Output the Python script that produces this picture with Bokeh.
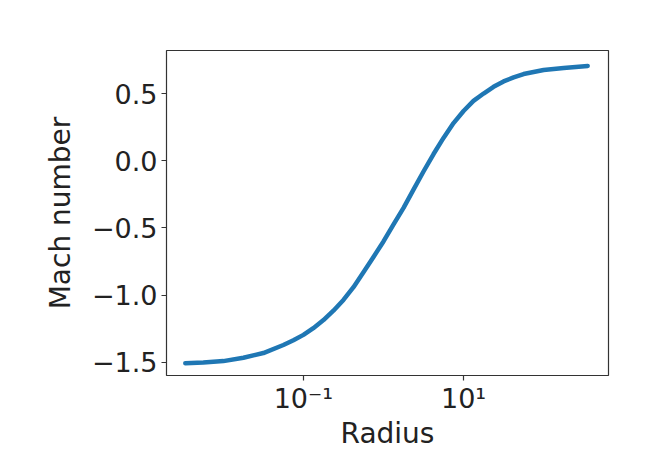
from bokeh.plotting import figure
from bokeh.models import Range1d, FixedTicker
from bokeh.embed import file_html
from bokeh.resources import INLINE

# Data
radius = [0.00335, 0.00562, 0.01, 0.0178, 0.0316, 0.0562, 0.075, 0.1,
          0.133, 0.178, 0.237, 0.316, 0.422, 0.562, 0.75, 1.0, 1.33,
          1.78, 2.37, 3.16, 4.22, 5.62, 7.5, 10.0, 13.3, 17.8, 23.7,
          31.6, 42.2, 56.2, 100.0, 178.0, 355.0]
mach = [-1.505, -1.50, -1.49, -1.465, -1.43, -1.37, -1.335, -1.295,
        -1.245, -1.185, -1.115, -1.035, -0.94, -0.83, -0.715, -0.60, -0.475,
        -0.35, -0.215, -0.08, 0.05, 0.17, 0.28, 0.37, 0.445, 0.50, 0.55,
        0.59, 0.62, 0.645, 0.675, 0.69, 0.705]

x_ticks = [0.1, 10.0]
x_tick_labels = ["10⁻¹", "10¹"]
y_ticks = [-1.5, -1.0, -0.5, 0.0, 0.5]
y_tick_labels = ["−1.5", "−1.0", "−0.5", "0.0", "0.5"]

FONT = "DejaVu Sans"

p = figure(width=659, height=453, x_axis_type="log",
           output_backend="svg", toolbar_location=None,
           x_range=Range1d(0.00195, 646), y_range=Range1d(-1.597, 0.82),
           min_border_left=166, min_border_right=51,
           min_border_top=50, min_border_bottom=78)

p.line(radius, mach, line_color="#1f77b4", line_width=4.5,
       line_join="round", line_cap="round")

p.grid.visible = False
p.outline_line_color = "#333333"
p.outline_line_width = 1.2
p.background_fill_color = "white"
p.border_fill_color = "white"

p.xaxis.ticker = FixedTicker(ticks=x_ticks, minor_ticks=[])
p.xaxis.major_label_overrides = {t: l for t, l in zip(x_ticks, x_tick_labels)}
p.yaxis.ticker = FixedTicker(ticks=y_ticks, minor_ticks=[])
p.yaxis.major_label_overrides = {t: l for t, l in zip(y_ticks, y_tick_labels)}

p.xaxis.axis_label = "Radius"
p.yaxis.axis_label = "Mach number"

for ax in (p.xaxis[0], p.yaxis[0]):
    ax.axis_line_color = None
    ax.major_tick_line_color = "#333333"
    ax.major_tick_line_width = 1.2
    ax.major_tick_out = 5
    ax.major_tick_in = 0
    ax.minor_tick_line_color = None
    ax.major_label_text_font = FONT
    ax.major_label_text_font_size = "27px"
    ax.major_label_text_color = "#222222"
    ax.axis_label_text_font = FONT
    ax.axis_label_text_font_size = "28px"
    ax.axis_label_text_font_style = "normal"
    ax.axis_label_text_color = "#222222"
    ax.major_label_standoff = 4

p.xaxis.major_label_standoff = 2
p.yaxis.axis_label_standoff = 12
p.xaxis.axis_label_standoff = 0

open("out.html", "w").write(file_html(p, INLINE))
